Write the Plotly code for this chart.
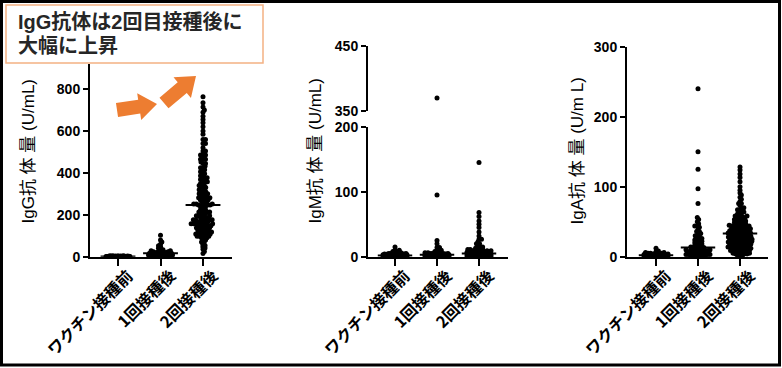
import numpy as np
import plotly.graph_objects as go

W, H = 782, 368

# ---------------- data ----------------
categories = ["ワクチン接種前", "1回接種後", "2回接種後"]
y_titles = ["IgG抗 体 量 (U/mL)", "IgM抗 体 量 (U/mL)", "IgA抗 体 量 (U/m L)"]
callout_lines = ["IgG抗体は2回目接種後に", "大幅に上昇"]

igg_ticks = [0, 200, 400, 600, 800]
igm_ticks_low = [0, 100, 200]
igm_ticks_high = [350, 450]
iga_ticks = [0, 100, 200, 300]

# IgG (U/mL): values and number of participants at each value
igg_pre_vals = [0.5, 1, 2, 3, 5]
igg_pre_cnts = [10, 10, 8, 5, 3]
igg_post1_vals = [2, 5, 8, 11, 14, 17, 20, 24, 28, 33, 40, 46, 52, 60, 70, 80, 103]
igg_post1_cnts = [4, 4, 4, 4, 3, 3, 3, 3, 2, 2, 1, 1, 1, 1, 1, 1, 1]
igg_post2_vals = [15, 25, 35, 42, 48, 54, 60, 70, 80, 90, 98, 108, 118, 128, 138, 148,
                  157, 167, 176, 186, 195, 205, 214, 224, 240, 247, 252, 262, 272, 281,
                  290, 300, 310, 320, 330, 340, 350, 358, 368, 377, 387, 396, 406, 415,
                  425, 432, 445, 452, 465, 485, 505, 520, 540, 560,
                  585, 600, 620, 640, 655, 670, 690, 700, 715, 735, 764]
igg_post2_cnts = [1, 1, 1, 1, 1, 1, 1, 2, 2, 3, 3, 4, 4, 4, 5, 5,
                  5, 5, 4, 4, 3, 3, 3, 3, 3, 3, 4, 3, 3, 3,
                  3, 3, 3, 2, 3, 2, 2, 2, 2, 2, 2, 1, 2, 1,
                  2, 1, 2, 1, 3, 3, 2, 1, 2, 2,
                  1, 1, 1, 1, 1, 1, 1, 1, 1, 1, 1]

# IgM (U/mL)
igm_pre_vals = [0.5, 1, 2, 3, 4, 5, 6, 8, 10, 15]
igm_pre_cnts = [8, 10, 10, 8, 6, 4, 2, 2, 2, 1]
igm_post1_vals = [0.5, 1, 2, 3, 4, 5, 6, 8, 10, 14, 20, 25, 95, 370]
igm_post1_cnts = [8, 10, 10, 8, 6, 5, 3, 2, 2, 2, 1, 1, 1, 1]
igm_post2_vals = [0.5, 1, 2, 3, 4, 5, 6, 7, 9, 11, 13, 15, 17, 20, 23, 27,
                  32, 38, 45, 50, 55, 62, 68, 145]
igm_post2_cnts = [6, 8, 8, 8, 8, 8, 4, 5, 5, 4, 2, 2, 1, 2, 1, 2,
                  1, 1, 1, 1, 1, 1, 1, 1]

# IgA (U/mL)
iga_pre_vals = [0.5, 1, 2, 3, 4, 5, 6, 7, 8, 12]
iga_pre_cnts = [5, 8, 10, 8, 5, 3, 2, 1, 1, 1]
iga_post1_vals = [1, 2, 3, 4, 5, 6, 7, 8, 9, 10, 11, 12, 13, 14,
                  16, 18, 20, 22, 24, 26, 28, 30, 33, 36, 39, 42, 44, 47, 50, 53, 56,
                  76, 97, 125, 150, 240]
iga_post1_cnts = [3, 4, 4, 3, 2, 3, 3, 3, 3, 2, 1, 2, 2, 2,
                  2, 2, 2, 2, 2, 2, 1, 2, 2, 2, 1, 1, 2, 1, 1, 1, 1,
                  1, 1, 1, 1, 1]
iga_post2_vals = [2, 4, 5, 6, 8, 9, 11, 12, 14, 16, 17, 18, 20, 21, 22, 23, 25, 27, 28,
                  29, 31, 33, 34, 35, 37, 39, 40, 41, 43, 44, 45, 47, 49, 51, 53, 56,
                  58, 61, 64, 67, 70, 73, 76, 79, 82, 85, 88, 91, 95, 100, 107,
                  113, 118, 124, 128]
iga_post2_cnts = [3, 3, 2, 3, 3, 3, 3, 4, 4, 3, 3, 4, 4, 4, 4, 4, 4, 4, 4,
                  4, 4, 4, 4, 4, 4, 3, 3, 3, 3, 3, 3, 3, 3, 3, 3, 3,
                  3, 2, 2, 2, 2, 1, 2, 1, 1, 1, 1, 1, 1, 1, 1,
                  1, 1, 1, 1]

# ---------------- layout geometry (pixels) ----------------
ZERO_PX = 256.7
panels = [
    dict(x_px=(90, 232), c0=118, sp=42.5, y_px=(ZERO_PX, 64), y_range=(0, 920),
         ticks=igg_ticks, title_x=28,
         groups=[(igg_pre_vals, igg_pre_cnts), (igg_post1_vals, igg_post1_cnts),
                 (igg_post2_vals, igg_post2_cnts)]),
    dict(x_px=(368, 508), c0=395, sp=42.0, y_px=(ZERO_PX, 126.7), y_range=(0, 200),
         ticks=igm_ticks_low, title_x=315,
         up_px=(111, 45.7), up_range=(350, 450), up_ticks=igm_ticks_high,
         groups=[(igm_pre_vals, igm_pre_cnts), (igm_post1_vals, igm_post1_cnts),
                 (igm_post2_vals, igm_post2_cnts)]),
    dict(x_px=(627, 768), c0=656, sp=42.0, y_px=(ZERO_PX, 46.7), y_range=(0, 300),
         ticks=iga_ticks, title_x=577,
         groups=[(iga_pre_vals, iga_pre_cnts), (iga_post1_vals, iga_post1_cnts),
                 (iga_post2_vals, iga_post2_cnts)]),
]

FONT_NUM = "Liberation Sans, Arial, sans-serif"
FONT_JP = "Noto Sans CJK JP, sans-serif"
FONT_MIX = "Liberation Sans, Noto Sans CJK JP, sans-serif"


def px_x(p):
    return p / W


def px_y(p):
    return 1 - p / H


def expand(vals, cnts):
    return np.repeat(np.asarray(vals, float), cnts)


def swarm(values, ppu, d=2.5, cap=12.0):
    """Beeswarm offsets (pixels) for sorted values; dense parts compressed within cap."""
    vals = np.sort(np.asarray(values, float))
    ys = vals * ppu
    px_list, py_list = [], []
    for y in ys:
        px_arr = np.array(px_list)
        py_arr = np.array(py_list)
        if len(px_arr):
            dy = py_arr - y
            m = np.abs(dy) < d
            nx, ny = px_arr[m], dy[m]
        else:
            nx, ny = np.array([]), np.array([])
        cands = [0.0]
        for xj, dyj in zip(nx, ny):
            dx = np.sqrt(max(d * d - dyj * dyj, 0))
            cands += [xj + dx, xj - dx]
        cands = sorted(cands, key=lambda c: (abs(c), -c))
        chosen = None
        for c in cands:
            if abs(c) > cap + 1e-9:
                break
            if len(nx) == 0 or np.all((nx - c) ** 2 + ny ** 2 >= d * d - 1e-6):
                chosen = c
                break
        if chosen is None:
            grid = np.linspace(-cap, cap, 49)
            dist = np.min((nx[None, :] - grid[:, None]) ** 2 + ny[None, :] ** 2, axis=1)
            chosen = grid[np.argmax(dist - 1e-3 * np.abs(grid))]
        px_list.append(chosen)
        py_list.append(y)
    return vals, np.array(px_list)


fig = go.Figure()
layout = dict(
    width=W, height=H, margin=dict(l=0, r=0, t=0, b=0, pad=0, autoexpand=False),
    paper_bgcolor="white", plot_bgcolor="white", showlegend=False,
    annotations=[], shapes=[],
)

axis_common = dict(showline=True, linecolor="black", linewidth=2, ticks="outside",
                   tickcolor="black", tickwidth=2, showgrid=False, zeroline=False,
                   fixedrange=True, automargin=False)
num_font = dict(family=FONT_NUM, size=14, color="black", weight="bold")

yaxis_names = ["y", "y2", "y4"]
xaxis_names = ["x", "x2", "x3"]

for pi, p in enumerate(panels):
    xn = xaxis_names[pi]
    yn = yaxis_names[pi]
    xkey = "xaxis" if xn == "x" else "xaxis" + xn[1:]
    ykey = "yaxis" if yn == "y" else "yaxis" + yn[1:]
    x0, x1 = p["x_px"]
    xr = ((x0 - p["c0"]) / p["sp"], (x1 - p["c0"]) / p["sp"])
    layout[xkey] = dict(axis_common, domain=[px_x(x0), px_x(x1)], range=list(xr),
                        anchor=yn, tickvals=[0, 1, 2], ticklen=7, showticklabels=False)
    yb, yt = p["y_px"]
    layout[ykey] = dict(axis_common, domain=[px_y(yb), px_y(yt)], range=list(p["y_range"]),
                        anchor=xn, tickvals=p["ticks"], ticklen=5, tickfont=num_font)
    ppu = (yb - yt) / (p["y_range"][1] - p["y_range"][0])
    has_up = "up_px" in p
    if has_up:
        ub, ut = p["up_px"]
        layout["yaxis3"] = dict(axis_common, domain=[px_y(ub), px_y(ut)],
                                range=list(p["up_range"]), anchor=xn,
                                tickvals=p["up_ticks"], ticklen=5, tickfont=num_font)
        ppu_up = (ub - ut) / (p["up_range"][1] - p["up_range"][0])

    for gi, (vals, cnts) in enumerate(p["groups"]):
        data = expand(vals, cnts)
        low = data[data <= p["y_range"][1]]
        v, off = swarm(low, ppu)
        fig.add_trace(go.Scatter(
            x=gi + off / p["sp"], y=v, mode="markers", xaxis=xn, yaxis=yn,
            marker=dict(size=5, color="black", line=dict(width=0)),
            cliponaxis=False, hoverinfo="skip"))
        if has_up:
            high = data[data > p["y_range"][1]]
            if len(high):
                vu, offu = swarm(high - p["up_range"][0], ppu_up)
                fig.add_trace(go.Scatter(
                    x=gi + offu / p["sp"], y=vu + p["up_range"][0], mode="markers",
                    xaxis=xn, yaxis="y3",
                    marker=dict(size=5, color="black", line=dict(width=0)),
                    cliponaxis=False, hoverinfo="skip"))
        med = float(np.median(data))
        fig.add_trace(go.Scatter(
            x=[gi - 0.41, gi + 0.41], y=[med, med], mode="lines", xaxis=xn, yaxis=yn,
            line=dict(color="black", width=2), cliponaxis=False, hoverinfo="skip"))
        # category label
        layout["annotations"].append(dict(
            x=gi, xref=xn, y=0, yref=yn, text=categories[gi], showarrow=False,
            textangle=-45, xanchor="right", yanchor="top", xshift=22, yshift=-4,
            font=dict(family=FONT_JP, size=16, color="black", weight="bold")))

    layout["annotations"].append(dict(
        x=px_x(p["title_x"]), xref="paper", y=px_y(151.5), yref="paper",
        text=y_titles[pi], showarrow=False, textangle=-90,
        xanchor="center", yanchor="middle",
        font=dict(family=FONT_MIX, size=17, color="black")))

# callout box
layout["shapes"].append(dict(
    type="rect", xref="paper", yref="paper", x0=px_x(6), x1=px_x(263),
    y0=px_y(63), y1=px_y(5), line=dict(color="#F4B183", width=1.5),
    fillcolor="white", layer="above"))
for line_text, cy in zip(callout_lines, [22, 46]):
    layout["annotations"].append(dict(
        x=px_x(16), xref="paper", y=px_y(cy), yref="paper", text=line_text,
        showarrow=False, xanchor="left", yanchor="middle", align="left",
        font=dict(family=FONT_MIX, size=20, color="#262626", weight="bold")))


def arrow_path(tail, tip, bw, hw, hl):
    t = np.array(tail, float)
    e = np.array(tip, float)
    u = (e - t) / np.linalg.norm(e - t)
    n = np.array([-u[1], u[0]])
    b = e - u * hl
    pts = [t + n * bw / 2, b + n * bw / 2, b + n * hw / 2, e,
           b - n * hw / 2, b - n * bw / 2, t - n * bw / 2]
    return "M " + " L ".join(f"{px_x(q[0]):.5f},{px_y(q[1]):.5f}" for q in pts) + " Z"


for tail, tip in [((117, 110), (157, 104)), ((164, 103), (196, 76))]:
    layout["shapes"].append(dict(
        type="path", xref="paper", yref="paper", path=arrow_path(tail, tip, 14, 27, 18),
        fillcolor="#ED7D31", line=dict(width=0), layer="above"))

# outer frame
layout["shapes"].append(dict(
    type="rect", xref="paper", yref="paper", x0=px_x(1.5), x1=px_x(779.5),
    y0=px_y(365), y1=px_y(1.5), line=dict(color="black", width=3),
    fillcolor="rgba(0,0,0,0)", layer="above"))

fig.update_layout(**layout)
fig.write_html("out.html", config={"displayModeBar": False},
               post_script="document.body.style.margin='0';"
                           "document.body.style.overflow='hidden';")
